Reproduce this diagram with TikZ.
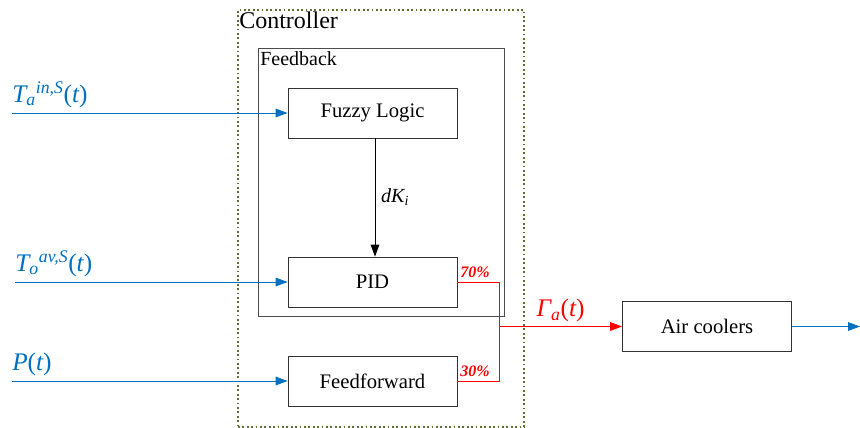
\documentclass[tikz,border=0pt]{standalone}
\usepackage{fontspec}
\setmainfont{Liberation Serif}
\usetikzlibrary{arrows.meta,positioning}

\definecolor{sigblue}{RGB}{0,112,192}
\definecolor{dotgreen}{RGB}{95,110,50}

\begin{document}
\begin{tikzpicture}[
x=0.75pt,y=-0.75pt,
block/.style={
  draw=black!80,
  line width=0.6pt,
  minimum width=126.75pt,
  minimum height=37.5pt,
  font=\fontsize{15.5}{18}\selectfont
  },
frame/.style={
  draw,
  inner sep=0pt
  },
sig/.style={
  draw=sigblue,
  line width=0.7pt,
  -{Triangle[length=9pt,width=6.5pt]}
  },
mixline/.style={
  draw=red,
  line width=0.7pt
  },
siglabel/.style={
  text=sigblue,
  font=\fontsize{19}{22}\selectfont,
  inner sep=0pt
  },
share/.style={
  text=red,
  font=\fontsize{12}{14}\selectfont\bfseries\itshape,
  inner sep=0pt
  }
]
\useasboundingbox (0,0) rectangle (860,428);

% frames
\node[frame,draw=dotgreen,dotted,line width=1.3pt,minimum width=214.5pt,minimum height=312.75pt] (ctrl) at (381,218.5) {};
\node[anchor=north west,inner sep=0pt,font=\fontsize{18}{20}\selectfont] (ctrltxt) at (239,12) {Controller};
\node[frame,draw=black!70,line width=0.6pt,minimum width=184.5pt,minimum height=201pt] (fb) at (381,182) {};
\node[anchor=north west,inner sep=0pt,font=\fontsize{15}{17}\selectfont] (fbtxt) at (260,51) {Feedback};

% blocks
\node[block] (fuzzy) at (372.5,113) {Fuzzy Logic};
\node[block] (pid) at (372.5,282) {PID};
\node[block] (ff) at (372.5,381) {Feedforward};
\node[block] (air) at (707,326.5) {Air coolers};

% inputs
\coordinate (inTa) at (12,113);
\coordinate (inTo) at (15,282);
\coordinate (inP) at (12,381);
\draw[sig] (inTa) -- (fuzzy.west);
\draw[sig] (inTo) -- (pid.west);
\draw[sig] (inP) -- (ff.west);
\node[siglabel,anchor=south west] (lTa) at ([yshift=4pt]inTa) {\itshape T\textsubscript{a}\textsuperscript{in,S}\upshape(\itshape t\upshape)};
\node[siglabel,anchor=south west] (lTo) at ([yshift=4pt]inTo) {\itshape T\textsubscript{o}\textsuperscript{av,S}\upshape(\itshape t\upshape)};
\node[siglabel,anchor=south west] (lP) at ([yshift=4pt]inP) {\itshape P\upshape(\itshape t\upshape)};

% gain adaptation
\draw[line width=0.6pt,-{Triangle[length=9pt,width=6.5pt]}] (fuzzy.south -| 375,0) -- node[right,font=\fontsize{15}{17}\selectfont\itshape,xshift=1pt] (ldk) {dK\textsubscript{i}} (pid.north -| 375,0);

% mixing
\coordinate (split) at (499,326.5);
\draw[mixline] (pid.east) -| (split);
\draw[mixline] (ff.east) -| (split);
\draw[mixline,-{Triangle[length=9pt,width=6.5pt]}] (split) -- node[above,siglabel,text=red,yshift=3pt] (lGa) {\itshape Γ\textsubscript{a}\upshape(\itshape t\upshape)} (air.west);
\node[share,anchor=south west] (p70) at ([xshift=2pt,yshift=3pt]pid.east) {70\%};
\node[share,anchor=south west] (p30) at ([xshift=2pt,yshift=3pt]ff.east) {30\%};

% output
\coordinate (out) at (860,326.5);
\draw[sig] (air.east) -- (out);

\end{tikzpicture}
\end{document}
